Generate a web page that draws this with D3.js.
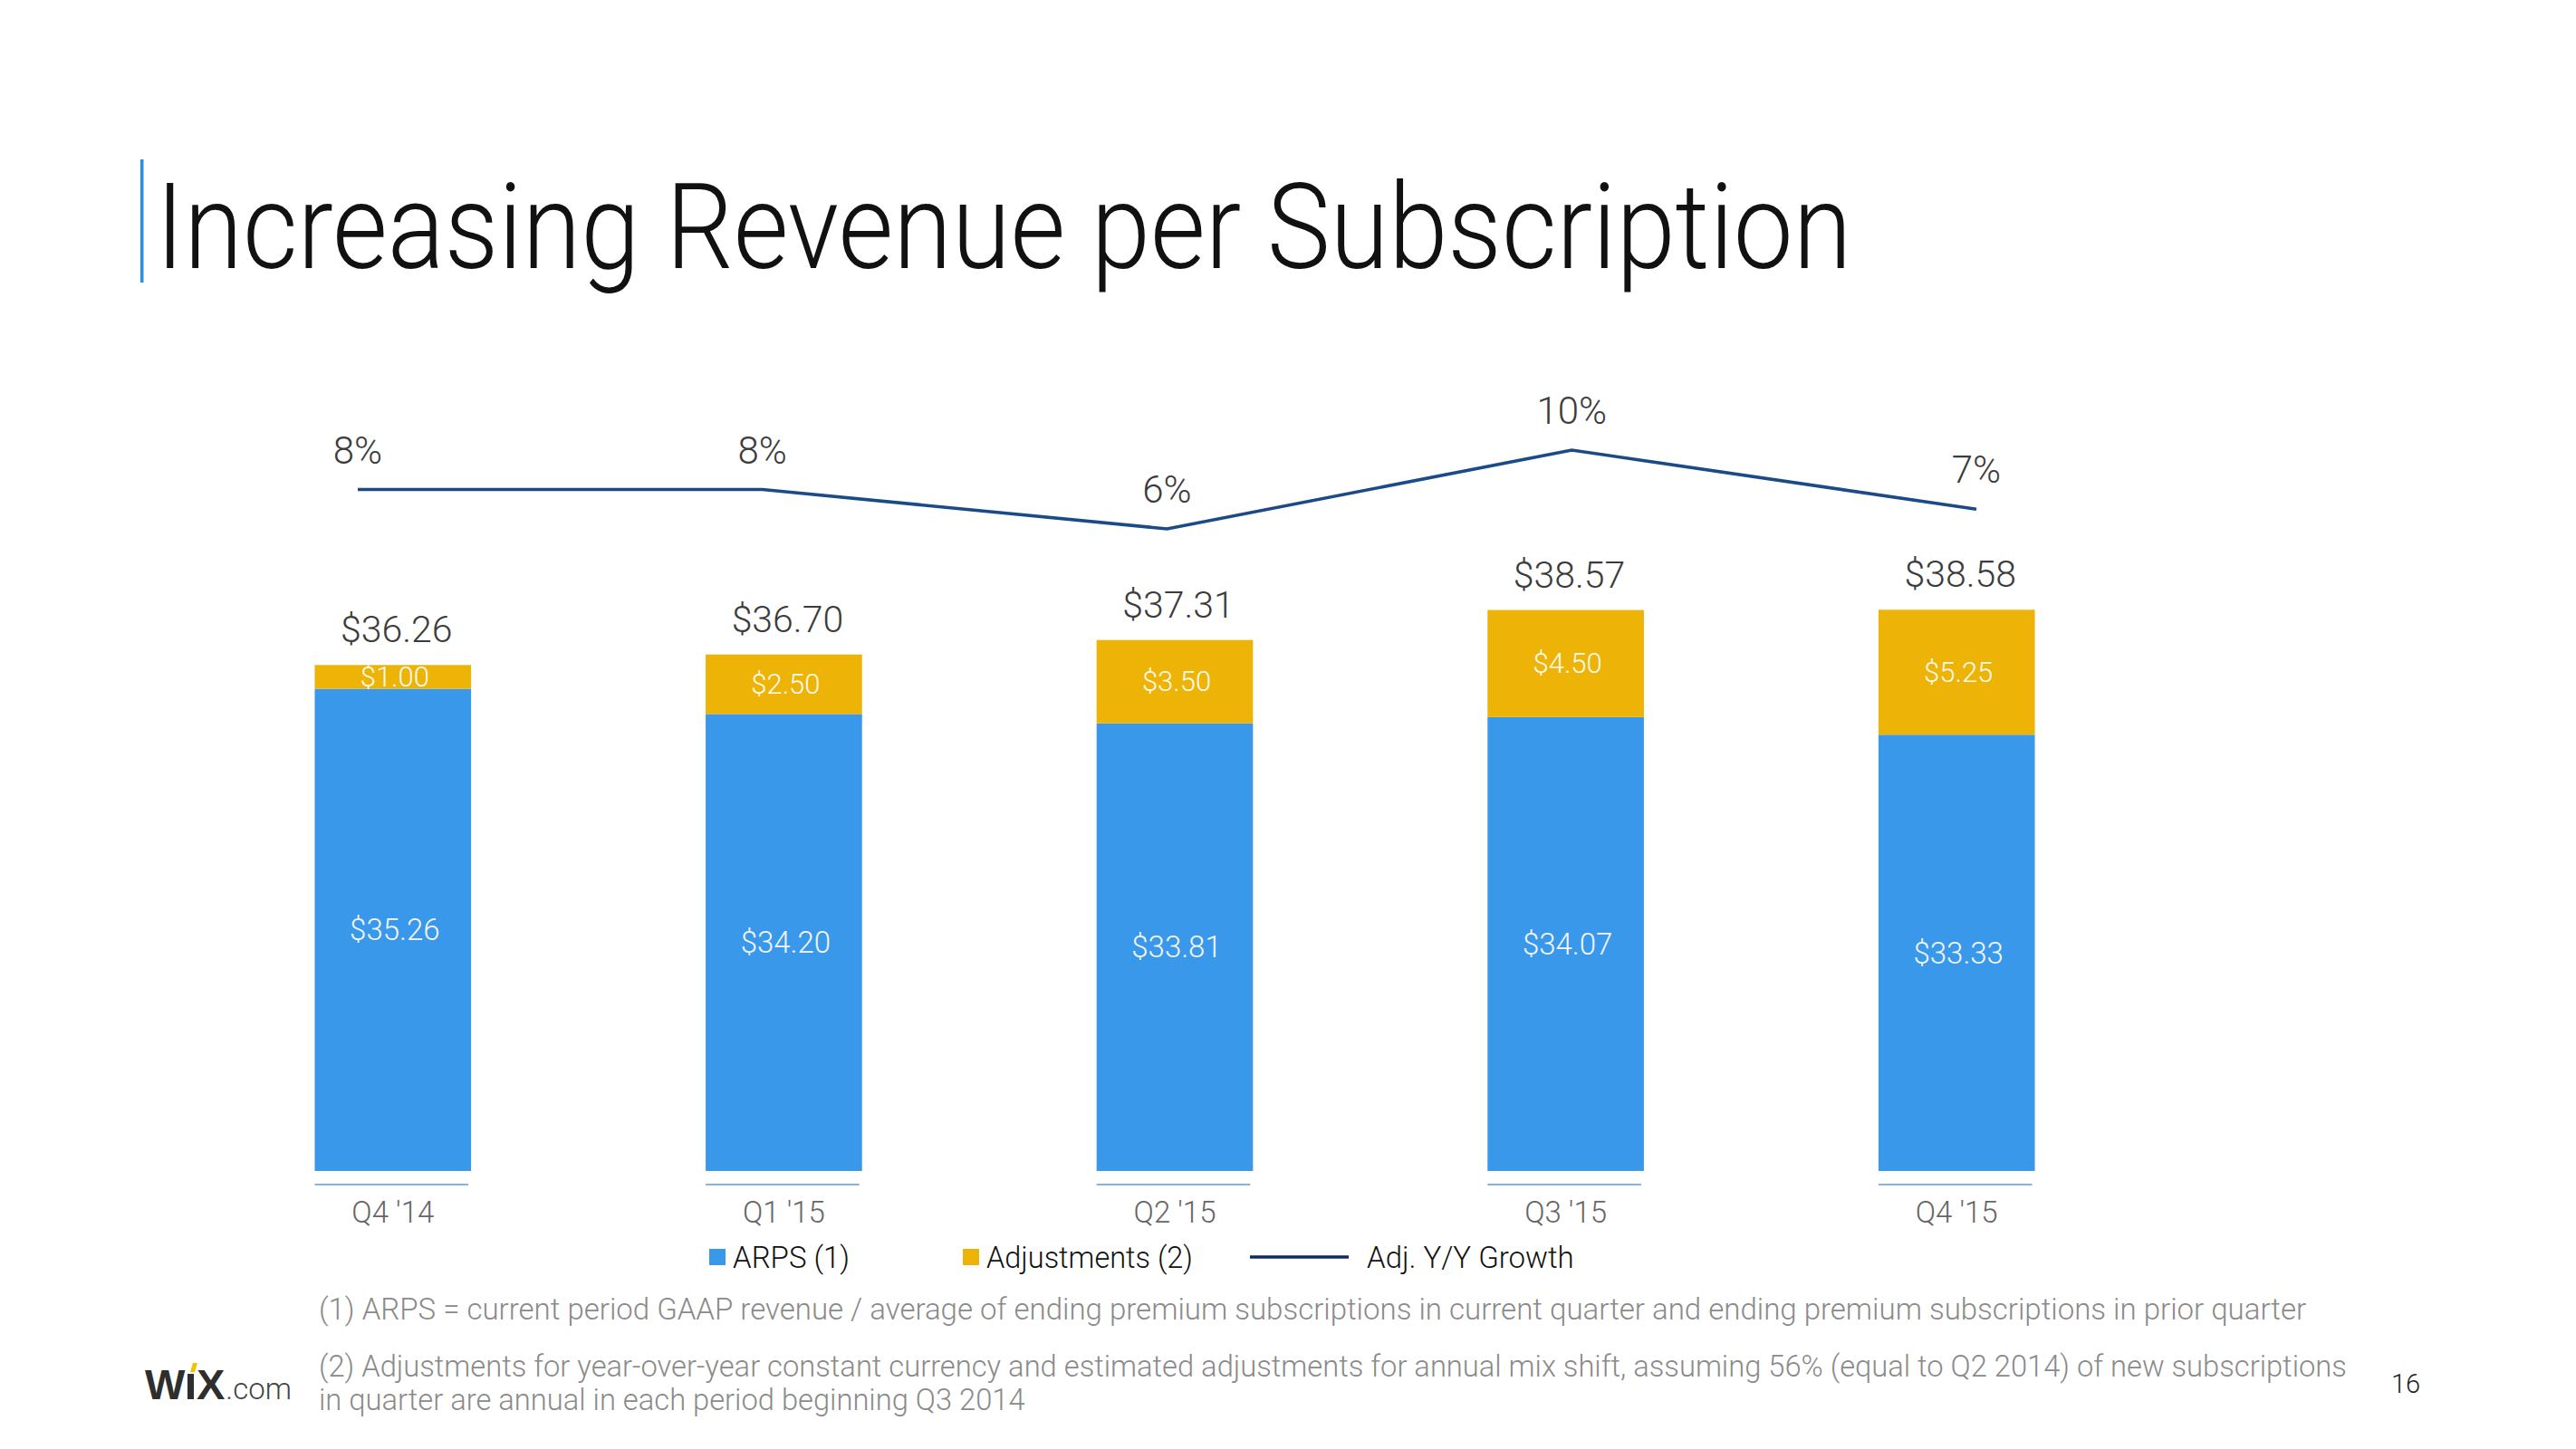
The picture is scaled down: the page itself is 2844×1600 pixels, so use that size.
<!DOCTYPE html>
<html>
<head>
<meta charset="utf-8">
<script src="https://cdn.jsdelivr.net/npm/d3@7"></script>
<style>
  html, body { margin: 0; padding: 0; background: #ffffff; }
  svg { display: block; }
  text { font-family: Roboto, "Liberation Sans", "Noto Sans", sans-serif; font-weight: 300; }
</style>
</head>
<body>
<svg id="chart" width="2844" height="1600"></svg>
<script>
// ---- Data ----
const categories = ["Q4 '14", "Q1 '15", "Q2 '15", "Q3 '15", "Q4 '15"];
const arps = [35.26, 34.20, 33.81, 34.07, 33.33];
const adjustments = [1.00, 2.50, 3.50, 4.50, 5.25];
const totals = [36.26, 36.70, 37.31, 38.57, 38.58];
const growth = [8, 8, 6, 10, 7];
const growthLabels = ["8%", "8%", "6%", "10%", "7%"];
const seriesNames = ["ARPS (1)", "Adjustments (2)", "Adj. Y/Y Growth"];
const titleText = "Increasing Revenue per Subscription";
const footnotes = [
  "(1) ARPS = current period GAAP revenue / average of ending premium subscriptions in current quarter and ending premium subscriptions in prior quarter",
  "(2) Adjustments for year-over-year constant currency and estimated adjustments for annual mix shift, assuming 56% (equal to Q2 2014) of new subscriptions",
  "in quarter are annual in each period beginning Q3 2014"
];
const pageNumber = "16";

// ---- Styles ----
const BLUE = "#3a98ea";
const YELLOW = "#edb306";
const LINE = "#1a4b86";
const LEGEND_LINE = "#0e2c60";

const svg = d3.select("#chart");

// Title
svg.append("rect").attr("x", 155).attr("y", 176).attr("width", 3.5).attr("height", 136).attr("fill", "#2b90e2");
svg.append("text").attr("transform", "translate(172,296) scale(0.897,1)")
  .attr("font-size", 131).attr("fill", "#111").text(titleText);

// Scales
const x = d3.scaleBand().domain(categories).range([218, 2376]).paddingInner(0.6).paddingOuter(0.3);
const y = d3.scaleLinear().domain([15, 40]).range([1293, 636]);
const xl = d3.scalePoint().domain(categories).range([395, 2182]);
const yl = d3.scaleLinear().domain([6, 10]).range([584, 497]);

const data = categories.map((c, i) => ({ c, arps: arps[i], adj: adjustments[i], total: totals[i], g: growth[i], gl: growthLabels[i] }));

// Bars - ARPS
svg.append("g").selectAll("rect").data(data).join("rect")
  .attr("x", d => x(d.c)).attr("width", x.bandwidth())
  .attr("y", d => y(d.arps)).attr("height", d => y(15) - y(d.arps))
  .attr("fill", BLUE);
// Bars - Adjustments
svg.append("g").selectAll("rect").data(data).join("rect")
  .attr("x", d => x(d.c)).attr("width", x.bandwidth())
  .attr("y", d => y(d.arps + d.adj)).attr("height", d => y(d.arps) - y(d.arps + d.adj))
  .attr("fill", YELLOW);

// Axis segments and category labels
const xAxis = d3.axisBottom(x).tickSize(0).tickPadding(0);
const axG = svg.append("g").attr("transform", "translate(0,1308)").call(xAxis);
axG.select(".domain").remove();
axG.selectAll(".tick").each(function(d) {
  d3.select(this).append("line")
    .attr("x1", -x.bandwidth() / 2).attr("x2", x.bandwidth() / 2 - 3)
    .attr("y1", 0).attr("y2", 0)
    .attr("stroke", "#7fb6e3").attr("stroke-width", 2.2);
});
axG.selectAll(".tick text")
  .attr("y", 42).attr("dy", null)
  .attr("font-family", "Roboto, 'Liberation Sans', sans-serif")
  .attr("font-weight", 300)
  .attr("font-size", 33).attr("fill", "#666");

// Inner labels
const fmt = d3.format("$.2f");
svg.append("g").selectAll("text").data(data).join("text")
  .attr("x", d => x(d.c) + x.bandwidth() / 2 + 2)
  .attr("y", d => (y(15) + y(d.arps)) / 2)
  .attr("text-anchor", "middle").attr("dominant-baseline", "central")
  .attr("font-size", 33).attr("fill", "#f2f6fb")
  .text(d => fmt(d.arps));
svg.append("g").selectAll("text").data(data).join("text")
  .attr("x", d => x(d.c) + x.bandwidth() / 2 + 2)
  .attr("y", d => (y(d.arps) + y(d.arps + d.adj)) / 2)
  .attr("text-anchor", "middle").attr("dominant-baseline", "central")
  .attr("font-size", 31).attr("fill", "#fffbef")
  .text(d => fmt(d.adj));
// Totals
svg.append("g").selectAll("text").data(data).join("text")
  .attr("x", d => x(d.c) + x.bandwidth() / 2 + 4)
  .attr("y", d => y(d.total) - 25)
  .attr("text-anchor", "middle")
  .attr("font-size", 41).attr("fill", "#3c3c3c")
  .text(d => fmt(d.total));

// Growth line
const line = d3.line().x(d => xl(d.c)).y(d => yl(d.g));
svg.append("path").datum(data).attr("d", line)
  .attr("fill", "none").attr("stroke", LINE).attr("stroke-width", 3.6);
svg.append("g").selectAll("text").data(data).join("text")
  .attr("x", d => xl(d.c)).attr("y", d => yl(d.g) - 29)
  .attr("text-anchor", "middle")
  .attr("font-size", 42).attr("fill", "#3c3c3c")
  .text(d => d.gl);

// Legend
const lg = svg.append("g");
lg.append("rect").attr("x", 783).attr("y", 1379).attr("width", 18).attr("height", 18).attr("fill", BLUE);
lg.append("text").attr("x", 809).attr("y", 1400).attr("font-size", 33).attr("fill", "#111").text(seriesNames[0]);
lg.append("rect").attr("x", 1063).attr("y", 1379).attr("width", 18).attr("height", 18).attr("fill", YELLOW);
lg.append("text").attr("x", 1089).attr("y", 1400).attr("font-size", 32.5).attr("fill", "#111").text(seriesNames[1]);
lg.append("line").attr("x1", 1380).attr("x2", 1489).attr("y1", 1388).attr("y2", 1388)
  .attr("stroke", LEGEND_LINE).attr("stroke-width", 3.5);
lg.append("text").attr("x", 1509).attr("y", 1400).attr("font-size", 33).attr("fill", "#111").text(seriesNames[2]);

// Footnotes
const fn = svg.append("g").attr("fill", "#8a8a8a");
fn.append("text").attr("x", 352).attr("y", 1457).attr("font-size", 33).text(footnotes[0]);
fn.append("text").attr("x", 352).attr("y", 1520).attr("font-size", 32.7).text(footnotes[1]);
fn.append("text").attr("x", 352).attr("y", 1557).attr("font-size", 32.7).text(footnotes[2]);

// Page number
svg.append("text").attr("x", 2656).attr("y", 1538).attr("text-anchor", "middle")
  .attr("font-size", 29).attr("font-weight", 400).attr("fill", "#222").text(pageNumber);

// Wix logo
const logo = svg.append("g");
const w = logo.append("text").attr("x", 160).attr("y", 1545)
  .style("font-family", "'Liberation Sans', Arial, sans-serif").style("font-weight", 700)
  .attr("font-size", 47).attr("fill", "#2e2e2e").text("W");
const wb = w.node().getBBox();
const ix = wb.x + wb.width + 2;
logo.append("rect").attr("x", ix).attr("y", 1517).attr("width", 7).attr("height", 28).attr("fill", "#2e2e2e");
logo.append("path").attr("d", `M${ix + 3},1515 L${ix + 6},1505 L${ix + 11},1505 L${ix + 8},1515 Z`).attr("fill", "#f2c200");
const xt = logo.append("text").attr("x", ix + 10).attr("y", 1545)
  .style("font-family", "'Liberation Sans', Arial, sans-serif").style("font-weight", 700)
  .attr("font-size", 47).attr("fill", "#2e2e2e").text("X");
const xb = xt.node().getBBox();
logo.append("text").attr("x", xb.x + xb.width + 1).attr("y", 1545)
  .attr("font-size", 33).attr("fill", "#444").text(".com");
</script>
</body>
</html>
